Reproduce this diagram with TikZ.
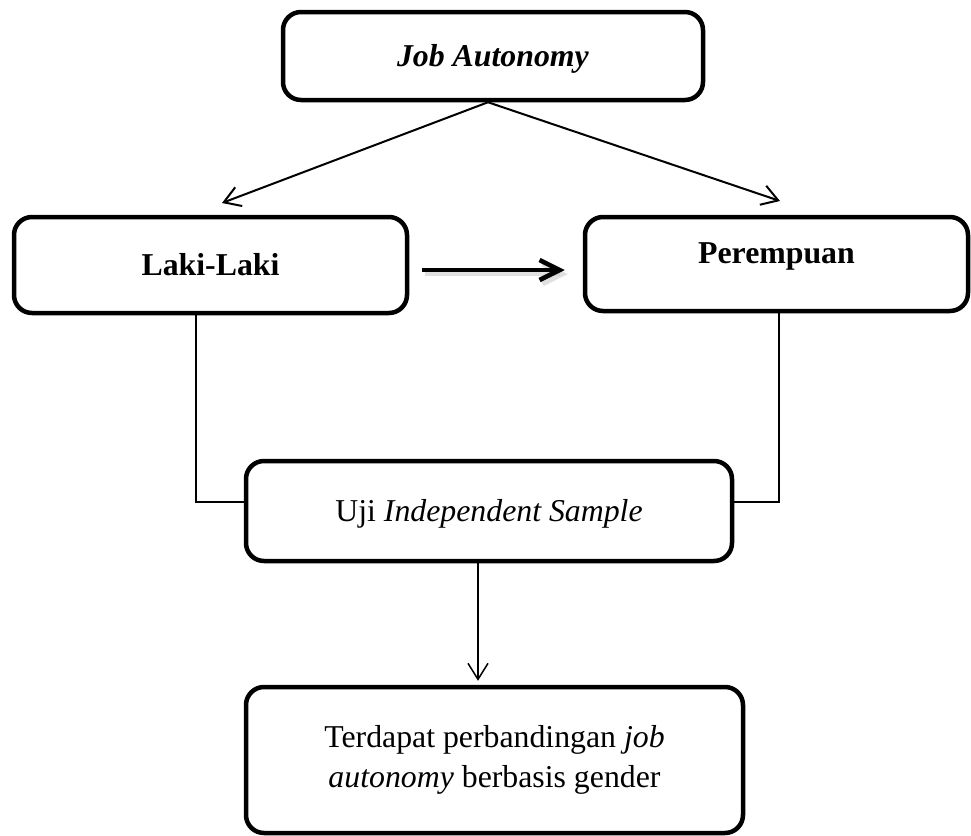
\documentclass[tikz,border=0pt]{standalone}
\usepackage{fontspec}
\setmainfont{Liberation Serif}
\usetikzlibrary{arrows.meta}
\begin{document}
\begin{tikzpicture}[x=0.5pt,y=-0.5pt,
  every node/.style={font=\fontsize{15.9pt}{20pt}\selectfont},
  box/.style={draw,line width=2.25pt,rounded corners=9pt,fill=white,inner sep=0pt},
  oneline/.style={text height=10pt,text depth=0pt},
  thinline/.style={line width=0.75pt},
  thinarrow/.style={thinline,-{Straight Barb[length=8pt,width=10pt]}},
  diagarrow/.style={line width=1pt,-{Straight Barb[length=8pt,width=10pt]}},
  thickarrow/.style={line width=2.3pt,-{Straight Barb[length=10pt,width=10pt]}}]
\useasboundingbox (0,0) rectangle (971,836);
\node[box,oneline,minimum width=210pt,minimum height=44pt] (top) at (493,56) {\textbf{\textit{Job Autonomy}}};
\node[box,oneline,minimum width=196.5pt,minimum height=48pt] (laki) at (210.5,265) {\textbf{Laki-Laki}};
\node[box,text height=10pt,text depth=11pt,minimum width=191.5pt,minimum height=47pt] (perem) at (776.5,264) {\textbf{Perempuan}};
\node[box,oneline,minimum width=243pt,minimum height=50pt] (uji) at (489,511) {Uji \textit{Independent Sample}};
\node[box,align=center,minimum width=248.5pt,minimum height=73pt] (hasil) at (494.5,760) {Terdapat perbandingan \textit{job}\\\textit{autonomy} berbasis gender};
\coordinate (lt) at (222,203);
\coordinate (rt) at (780,201);
\draw[diagarrow] ([xshift=-2.5pt]top.south) -- (lt);
\draw[diagarrow] ([xshift=-2.5pt]top.south) -- (rt);
\draw[thickarrow,black!20,opacity=0.6] ([xshift=8pt,yshift=-4.5pt]laki.east) -- ([xshift=-7.5pt,yshift=-5pt]perem.west);
\draw[thickarrow] ([xshift=6.5pt,yshift=-2.5pt]laki.east) -- ([xshift=-9pt,yshift=-3pt]perem.west);
\draw[thinline] ([xshift=-7.25pt]laki.south) |- ([yshift=4.5pt]uji.west);
\draw[thinline] ([xshift=1.25pt]perem.south) |- ([yshift=4.5pt]uji.east);
\draw[thinarrow] ([xshift=-5.5pt]uji.south) -- ([xshift=-8.25pt,yshift=2pt]hasil.north);
\end{tikzpicture}
\end{document}
